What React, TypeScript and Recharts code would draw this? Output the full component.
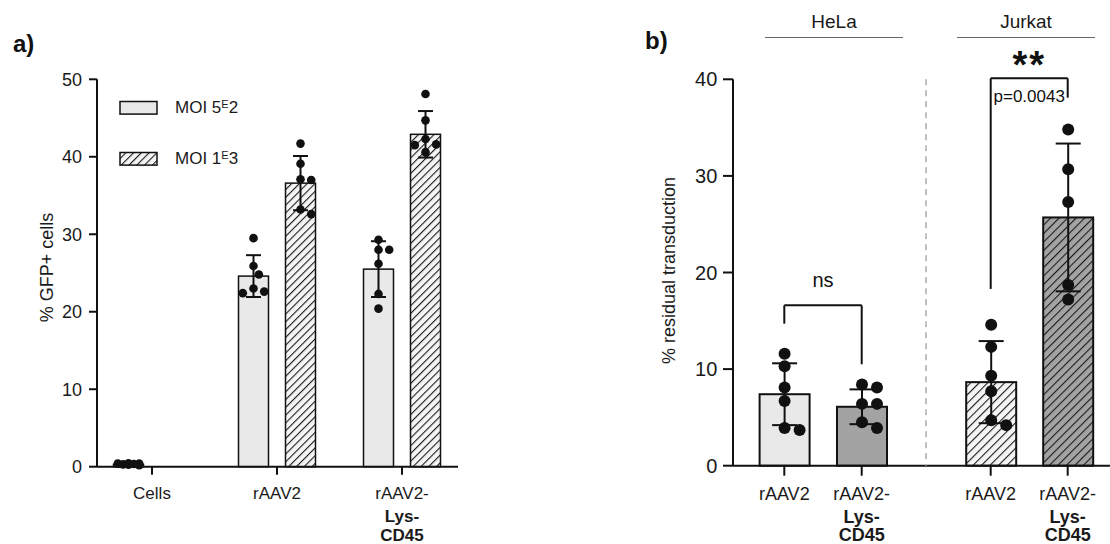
import React from "react";
import { BarChart, Bar, XAxis, YAxis, ErrorBar, Legend, ReferenceLine, Cell } from "recharts";

const FONT = '"Liberation Sans", Arial, sans-serif';
const INK = "#111";

// ---- panel a: % GFP+ cells ----
const groupsA = ["Cells", "rAAV2", "rAAV2-Lys-CD45"];
const seriesA = ["MOI 5E2", "MOI 1E3"];
const meanMoi5 = [0.3, 24.6, 25.5];
const sdMoi5 = [0.1, 2.7, 3.6];
const meanMoi1 = [null, 36.6, 42.9];
const sdMoi1 = [null, 3.5, 3.0];
const ptsMoi5 = [
  [0.45, 0.4, 0.4, 0.35, 0.3, 0.25, 0.2],
  [29.5, 25.9, 24.8, 23.0, 22.6, 22.4],
  [29.3, 28.0, 28.0, 26.2, 22.3, 20.4],
];
const ptsMoi1 = [
  [],
  [41.7, 39.1, 37.1, 37.0, 33.2, 32.6],
  [48.1, 44.7, 42.3, 41.6, 41.5, 40.6],
];
const ticksA = [0, 10, 20, 30, 40, 50];

// ---- panel b: % residual transduction ----
const groupsB = ["rAAV2", "rAAV2-Lys-CD45"];
const cellLines = ["HeLa", "Jurkat"];
const meanHela = [7.4, 6.1];
const sdHela = [3.2, 1.8];
const ptsHela = [
  [11.6, 10.3, 8.1, 6.7, 3.9, 3.7],
  [8.4, 8.1, 6.4, 6.4, 4.5, 3.9],
];
const meanJurkat = [8.65, 25.7];
const sdJurkat = [4.25, 7.65];
const ptsJurkat = [
  [14.6, 12.3, 9.3, 7.7, 4.7, 4.2],
  [34.8, 30.7, 27.3, 18.7, 17.2],
];
const ticksB = [0, 10, 20, 30, 40];

// brackets (y values of left leg end, top, right leg end)
const nsBracket = [14.7, 16.6, 10.5];
const jurkatBracket = [18.3, 40.1, 38.1];
const pValue = "p=0.0043";

const tickLines: Record<string, string[]> = {
  Cells: ["Cells"],
  rAAV2: ["rAAV2"],
  "rAAV2-Lys-CD45": ["rAAV2-", "Lys-", "CD45"],
};

const dataA = groupsA.map((name, i) => ({
  name,
  moi5: meanMoi5[i],
  moi5Sd: sdMoi5[i],
  moi1: meanMoi1[i],
  moi1Sd: sdMoi1[i],
}));
const dataHela = groupsB.map((name, i) => ({ name, mean: meanHela[i], sd: sdHela[i] }));
const dataJurkat = groupsB.map((name, i) => ({ name, mean: meanJurkat[i], sd: sdJurkat[i] }));

// simple beeswarm so overlapping points spread sideways
function swarm(ys: number[], r: number, half: number) {
  const placed: { x: number; y: number }[] = [];
  const order = [...ys].sort((a, b) => a - b);
  for (const py of order) {
    let best = 0;
    let bestDist = -1;
    for (let k = 0; k < 12; k++) {
      const raw = k === 0 ? 0 : (k % 2 ? 1 : -1) * Math.ceil(k / 2) * r * 1.25;
      const c = Math.max(-half, Math.min(half, raw));
      const dmin = placed.length ? Math.min(...placed.map((p) => Math.hypot(p.x - c, p.y - py))) : Infinity;
      if (dmin >= 2 * r) {
        best = c;
        bestDist = Infinity;
        break;
      }
      if (dmin > bestDist) {
        bestDist = dmin;
        best = c;
      }
    }
    placed.push({ x: best, y: py });
  }
  return placed;
}

function DotBar(props: any) {
  const { x, y, width, height, fill, stroke, strokeWidth, mean, pts, r } = props;
  if (mean == null || !isFinite(height) || height <= 0) return null;
  const base = y + height;
  const ppu = height / mean;
  const cx = x + width / 2;
  const dots = swarm((pts || []).map((v: number) => base - v * ppu), r, width / 2 - r);
  return (
    <g>
      <rect x={x} y={y} width={width} height={height} fill={fill} stroke={stroke} strokeWidth={strokeWidth} />
      {dots.map((d, i) => (
        <circle key={i} cx={cx + d.x} cy={d.y} r={r} fill={INK} />
      ))}
    </g>
  );
}

// position of a bar's row in its group list, taken from its own payload
const rowOf = (p: any, groups: string[]) => {
  const i = groups.indexOf(p?.payload?.name);
  return i >= 0 ? i : p.index;
};

function CatTick(props: any) {
  const { x, y, payload, size, dys } = props;
  const lines = tickLines[payload.value] ?? [payload.value];
  return (
    <text x={x} y={y} textAnchor="middle" fontFamily={FONT} fontSize={size} fill="#1a1a1a">
      {lines.map((ln, i) => (
        <tspan key={i} x={x} dy={dys[i]} fontWeight={i > 0 ? 700 : 400}>
          {ln}
        </tspan>
      ))}
    </text>
  );
}

function MoiLegend({ payload }: any) {
  const entries = seriesA.map((name) => (payload || []).find((e: any) => e.value === name)).filter(Boolean);
  return (
    <div style={{ fontFamily: FONT, fontSize: 17, color: "#1a1a1a" }}>
      {entries.map((entry: any, i: number) => {
        const [head, tail] = String(entry.value).split("E");
        return (
          <div key={i} style={{ display: "flex", alignItems: "center", height: 50.7 }}>
            <svg width={40} height={16} style={{ marginRight: 16 }}>
              <rect x={1} y={1.5} width={37} height={12.6} fill={entry.color} stroke={INK} strokeWidth={1.5} />
            </svg>
            <span>
              {head}
              <span style={{ fontSize: 11, position: "relative", top: -5 }}>E</span>
              {tail}
            </span>
          </div>
        );
      })}
    </div>
  );
}

const axisStyle = { stroke: INK, strokeWidth: 2 };

function Hatch({ id, bg, gap }: { id: string; bg: string; gap: number }) {
  return (
    <pattern id={id} width={gap} height={gap} patternUnits="userSpaceOnUse" patternTransform="rotate(45)">
      <rect width={gap} height={gap} fill={bg} />
      <line x1={0} y1={0} x2={0} y2={gap} stroke="#1a1a1a" strokeWidth={2.2} />
    </pattern>
  );
}

function PanelA() {
  return (
    <BarChart width={560} height={544} data={dataA} margin={{ top: 79.3, right: 102, bottom: 0, left: 0 }} barGap={17}>
      <defs>
        <Hatch id="hatchA" bg="#f5f5f5" gap={5.5} />
      </defs>
      <XAxis
        dataKey="name"
        height={77.3}
        padding={{ left: -7.5, right: -6.5 }}
        tickSize={8}
        tickMargin={0}
        interval={0}
        axisLine={axisStyle}
        tickLine={axisStyle}
        tick={(p: any) => <CatTick {...p} size={17} dys={[24.6, 23, 19]} />}
      />
      <YAxis
        domain={[0, 50]}
        ticks={ticksA}
        width={97}
        tickSize={8}
        tickMargin={7}
        axisLine={axisStyle}
        tickLine={axisStyle}
        tick={{ fontSize: 18, fill: "#1a1a1a", fontFamily: FONT }}
        label={{ value: "% GFP+ cells", angle: -90, position: "center", dx: -2, dy: -5.5, fontSize: 18, fill: "#1a1a1a", fontFamily: FONT }}
      />
      <Legend
        layout="vertical"
        align="center"
        verticalAlign="middle"
        content={<MoiLegend />}
        wrapperStyle={{ left: 119, top: 82.6, width: 200 }}
      />
      <Bar
        dataKey="moi5"
        name={seriesA[0]}
        fill="#e9e9e9"
        stroke={INK}
        strokeWidth={1.5}
        barSize={30}
        isAnimationActive={false}
        shape={(p: any) => {
          const i = rowOf(p, groupsA);
          return <DotBar {...p} mean={meanMoi5[i]} pts={ptsMoi5[i]} r={4.3} />;
        }}
      >
        <ErrorBar dataKey="moi5Sd" width={7.5} stroke={INK} strokeWidth={2} direction="y" />
      </Bar>
      <Bar
        dataKey="moi1"
        name={seriesA[1]}
        fill="url(#hatchA)"
        stroke={INK}
        strokeWidth={1.5}
        barSize={30}
        isAnimationActive={false}
        shape={(p: any) => {
          const i = rowOf(p, groupsA);
          return <DotBar {...p} mean={meanMoi1[i]} pts={ptsMoi1[i]} r={4.3} />;
        }}
      >
        <ErrorBar dataKey="moi1Sd" width={7.5} stroke={INK} strokeWidth={2} direction="y" />
      </Bar>
    </BarChart>
  );
}

const xAxisB = {
  dataKey: "name",
  height: 78.3,
  tickSize: 10,
  tickMargin: 0,
  interval: 0 as const,
  axisLine: axisStyle,
  tickLine: axisStyle,
  tick: (p: any) => <CatTick {...p} size={18} dys={[24, 23, 18.5]} />,
};

function PanelHela() {
  return (
    <BarChart width={326} height={544} data={dataHela} margin={{ top: 79.3, right: 0, bottom: 0, left: 0 }}>
      <XAxis {...xAxisB} padding={{ left: 12.6, right: 25.6 }} />
      <YAxis
        domain={[0, 40]}
        ticks={ticksB}
        width={133}
        tickSize={10}
        tickMargin={5.7}
        axisLine={axisStyle}
        tickLine={axisStyle}
        tick={{ fontSize: 20, fill: "#1a1a1a", fontFamily: FONT }}
        label={{ value: "% residual transduction", angle: -90, position: "center", dx: 2, dy: -2, fontSize: 18, fill: "#1a1a1a", fontFamily: FONT }}
      />
      <Bar
        dataKey="mean"
        stroke={INK}
        strokeWidth={2}
        barSize={50}
        isAnimationActive={false}
        shape={(p: any) => {
          const i = rowOf(p, groupsB);
          return <DotBar {...p} mean={meanHela[i]} pts={ptsHela[i]} r={6} />;
        }}
      >
        <Cell fill="#e9e9e9" />
        <Cell fill="#a3a3a3" />
        <ErrorBar dataKey="sd" width={12.5} stroke={INK} strokeWidth={2} direction="y" />
      </Bar>
      <ReferenceLine
        segment={[{ x: groupsB[0], y: nsBracket[0] }, { x: groupsB[0], y: nsBracket[1] }]}
        stroke={INK}
        strokeWidth={2}
      />
      <ReferenceLine
        segment={[{ x: groupsB[0], y: nsBracket[1] }, { x: groupsB[1], y: nsBracket[1] }]}
        stroke={INK}
        strokeWidth={2}
        label={{ value: "ns", position: "top", offset: 18, fontSize: 20, fill: INK, fontFamily: FONT }}
      />
      <ReferenceLine
        segment={[{ x: groupsB[1], y: nsBracket[1] }, { x: groupsB[1], y: nsBracket[2] }]}
        stroke={INK}
        strokeWidth={2}
      />
    </BarChart>
  );
}

function PanelJurkat() {
  return (
    <BarChart width={190} height={544} data={dataJurkat} margin={{ top: 79.3, right: 0, bottom: 0, left: 5 }}>
      <defs>
        <Hatch id="hatchJL" bg="#f5f5f5" gap={6} />
        <Hatch id="hatchJD" bg="#a3a3a3" gap={6} />
      </defs>
      <XAxis {...xAxisB} padding={{ left: 26.2, right: 3.8 }} />
      <YAxis
        domain={[0, 40]}
        ticks={ticksB}
        width={1}
        tick={false}
        tickLine={false}
        axisLine={{ stroke: "#aaa", strokeWidth: 1.5, strokeDasharray: "6 5" }}
      />
      <Bar
        dataKey="mean"
        stroke={INK}
        strokeWidth={2}
        barSize={50}
        isAnimationActive={false}
        shape={(p: any) => {
          const i = rowOf(p, groupsB);
          return <DotBar {...p} mean={meanJurkat[i]} pts={ptsJurkat[i]} r={6} />;
        }}
      >
        <Cell fill="url(#hatchJL)" />
        <Cell fill="url(#hatchJD)" />
        <ErrorBar dataKey="sd" width={12.5} stroke={INK} strokeWidth={2} direction="y" />
      </Bar>
      <ReferenceLine
        segment={[{ x: groupsB[0], y: jurkatBracket[0] }, { x: groupsB[0], y: jurkatBracket[1] }]}
        stroke={INK}
        strokeWidth={2}
        ifOverflow="visible"
      />
      <ReferenceLine
        segment={[{ x: groupsB[0], y: jurkatBracket[1] }, { x: groupsB[1], y: jurkatBracket[1] }]}
        stroke={INK}
        strokeWidth={2}
        ifOverflow="visible"
        label={{ value: pValue, position: "bottom", offset: 12, fontSize: 17, fill: INK, fontFamily: FONT }}
      />
      <ReferenceLine
        segment={[{ x: groupsB[0], y: jurkatBracket[1] }, { x: groupsB[1], y: jurkatBracket[1] }]}
        stroke="none"
        ifOverflow="visible"
        label={{ value: "**", position: "top", offset: 0, fontSize: 38, fontWeight: 700, letterSpacing: 2, fill: INK, fontFamily: FONT }}
      />
      <ReferenceLine
        segment={[{ x: groupsB[1], y: jurkatBracket[1] }, { x: groupsB[1], y: jurkatBracket[2] }]}
        stroke={INK}
        strokeWidth={2}
        ifOverflow="visible"
      />
    </BarChart>
  );
}

const headerStyle: React.CSSProperties = {
  position: "absolute",
  top: 11,
  width: 138,
  height: 22,
  lineHeight: "22px",
  paddingBottom: 4,
  textAlign: "center",
  fontFamily: FONT,
  fontSize: 19,
  color: "#1a1a1a",
  borderBottom: "1.5px solid #666",
};

const panelLabel: React.CSSProperties = {
  position: "absolute",
  fontFamily: FONT,
  fontSize: 24,
  fontWeight: 700,
  lineHeight: "24px",
  color: INK,
};

export default function App() {
  return (
    <div style={{ position: "absolute", left: 0, top: 0, width: 1110, height: 544, background: "#fff", overflow: "hidden" }}>
      <div style={{ position: "absolute", left: 0, top: 0 }}>
        <PanelA />
      </div>
      <div style={{ position: "absolute", left: 600, top: 0 }}>
        <PanelHela />
      </div>
      <div style={{ position: "absolute", left: 920, top: 0 }}>
        <PanelJurkat />
      </div>
      <div style={{ ...headerStyle, left: 765 }}>{cellLines[0]}</div>
      <div style={{ ...headerStyle, left: 957 }}>{cellLines[1]}</div>
      <div style={{ ...panelLabel, left: 13, top: 32 }}>a)</div>
      <div style={{ ...panelLabel, left: 645, top: 29 }}>b)</div>
    </div>
  );
}
